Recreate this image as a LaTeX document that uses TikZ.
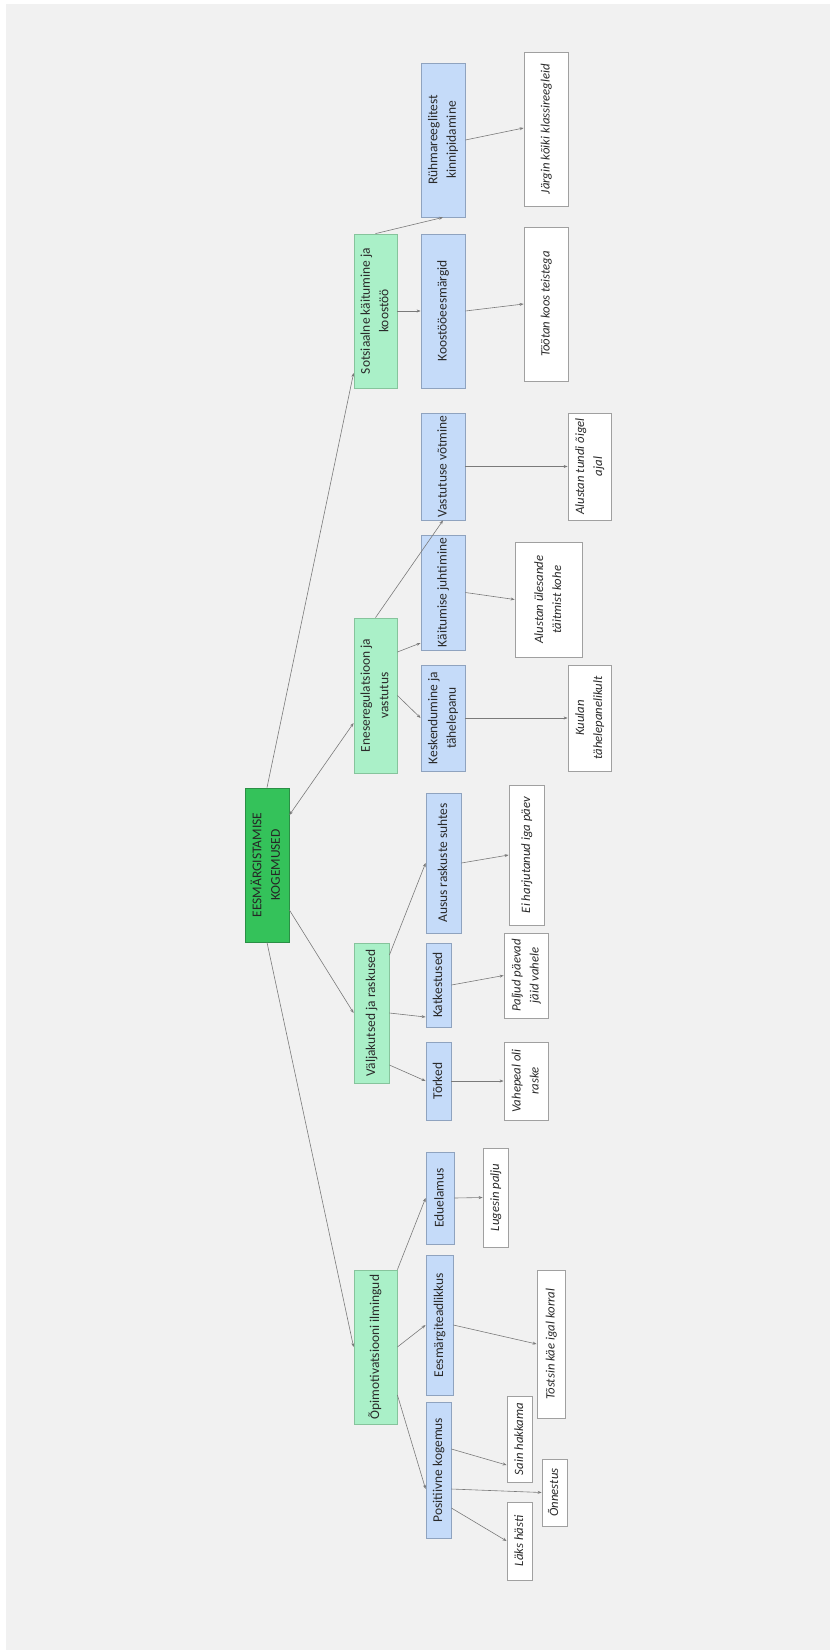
\documentclass[tikz,border=0pt]{standalone}
\usepackage{fontspec}
\usepackage{graphicx}
\setmainfont{Carlito}
\usetikzlibrary{arrows.meta}
\definecolor{bgc}{HTML}{F1F1F1}
\definecolor{rootfill}{HTML}{34C25A}
\definecolor{rootdraw}{HTML}{2A8F45}
\definecolor{gfill}{HTML}{AAF0C8}
\definecolor{gdraw}{HTML}{86C49C}
\definecolor{bfill}{HTML}{C5DBF9}
\definecolor{bdraw}{HTML}{8FA3BF}
\definecolor{wdraw}{HTML}{A0A0A0}
\definecolor{linec}{HTML}{7A7A7A}
\definecolor{txt}{HTML}{2A2A2A}
\newcommand\rtext[1]{\rotatebox{90}{\fontsize{13.5}{18.5}\selectfont\begin{tabular}{@{}c@{}}#1\end{tabular}}}
\newcommand\ritext[1]{\rotatebox{90}{\fontsize{12.8}{18}\selectfont\itshape\begin{tabular}{@{}c@{}}#1\end{tabular}}}
\tikzset{
  basebox/.style={rectangle, inner sep=0pt, line width=0.8bp, text=txt},
  rootbox/.style={basebox, fill=rootfill, draw=rootdraw, text=black!85},
  gbox/.style={basebox, fill=gfill, draw=gdraw},
  bbox/.style={basebox, fill=bfill, draw=bdraw},
  wbox/.style={basebox, fill=white, draw=wdraw},
  conn/.style={draw=linec, line width=0.6bp, -{Stealth[length=4bp,width=3bp]}},
  conn2/.style={draw=linec, line width=0.6bp, {Stealth[length=4bp,width=3bp]}-{Stealth[length=4bp,width=3bp]}},
}
\begin{document}
\begin{tikzpicture}[x=1bp,y=1bp]
\useasboundingbox (0,0) rectangle (830,-1650);
\fill[bgc] (6,-4) rectangle (830,-1650);

% root
\node[rootbox, minimum width=44bp, minimum height=154bp] (root) at (267,-865) {\rtext{EESMÄRGISTAMISE\\KOGEMUSED}};

% level 1 (green)
\node[gbox, minimum width=43bp, minimum height=154bp] (soc) at (375.5,-311) {\rtext{Sotsiaalne käitumine ja\\koostöö}};
\node[gbox, minimum width=43bp, minimum height=155bp] (ene) at (375.5,-695.5) {\rtext{Eneseregulatsioon ja\\vastutus}};
\node[gbox, minimum width=35bp, minimum height=140bp] (val) at (371.5,-1013) {\rtext{Väljakutsed ja raskused}};
\node[gbox, minimum width=43bp, minimum height=154bp] (opi) at (375.5,-1347) {\rtext{Õpimotivatsiooni ilmingud}};

% level 2 (blue)
\node[bbox, minimum width=44bp, minimum height=154bp] (ruhm) at (443,-140) {\rtext{Rühmareeglitest\\kinnipidamine}};
\node[bbox, minimum width=44bp, minimum height=154bp] (koos) at (443,-311) {\rtext{Koostööeesmärgid}};
\node[bbox, minimum width=44bp, minimum height=107bp] (vast) at (443,-466.5) {\rtext{Vastutuse võtmine}};
\node[bbox, minimum width=44bp, minimum height=115bp] (kait) at (443,-592.5) {\rtext{Käitumise juhtimine}};
\node[bbox, minimum width=44bp, minimum height=106bp] (kesk) at (443,-718) {\rtext{Keskendumine ja\\tähelepanu}};
\node[bbox, minimum width=35bp, minimum height=140bp] (ausus) at (443.5,-863) {\rtext{Ausus raskuste suhtes}};
\node[bbox, minimum width=25bp, minimum height=84bp] (katk) at (438.5,-985) {\rtext{Katkestused}};
\node[bbox, minimum width=25bp, minimum height=78bp] (tork) at (438.5,-1081) {\rtext{Tõrked}};
\node[bbox, minimum width=28bp, minimum height=92bp] (edu) at (440,-1198) {\rtext{Eduelamus}};
\node[bbox, minimum width=27bp, minimum height=140bp] (eesm) at (439.5,-1325) {\rtext{Eesmärgiteadlikkus}};
\node[bbox, minimum width=25bp, minimum height=136bp] (pos) at (438.5,-1470) {\rtext{Positiivne kogemus}};

% level 3 (white)
\node[wbox, minimum width=44bp, minimum height=154bp] (jargin) at (546,-129) {\ritext{Järgin kõiki klassireegleid}};
\node[wbox, minimum width=44bp, minimum height=154bp] (tootan) at (546,-304) {\ritext{Töötan koos teistega}};
\node[wbox, minimum width=43bp, minimum height=107bp] (alt) at (589.5,-466.5) {\ritext{Alustan tundi õigel\\ajal}};
\node[wbox, minimum width=67bp, minimum height=115bp] (alu) at (548.5,-599.5) {\ritext{Alustan ülesande\\täitmist kohe}};
\node[wbox, minimum width=43bp, minimum height=106bp] (kuul) at (589.5,-718) {\ritext{Kuulan\\tähelepanelikult}};
\node[wbox, minimum width=35bp, minimum height=140bp] (ei) at (526.5,-855) {\ritext{Ei harjutanud iga päev}};
\node[wbox, minimum width=44bp, minimum height=85bp] (palj) at (526,-975.5) {\ritext{Paljud päevad\\jäid vahele}};
\node[wbox, minimum width=44bp, minimum height=78bp] (vahe) at (526,-1081) {\ritext{Vahepeal oli\\raske}};
\node[wbox, minimum width=25bp, minimum height=99bp] (lug) at (495.5,-1197.5) {\ritext{Lugesin palju}};
\node[wbox, minimum width=28bp, minimum height=148bp] (tost) at (551,-1344) {\ritext{Tõstsin käe igal korral}};
\node[wbox, minimum width=25bp, minimum height=86bp] (sain) at (519.5,-1439) {\ritext{Sain hakkama}};
\node[wbox, minimum width=25bp, minimum height=67bp] (onn) at (554.5,-1492.5) {\ritext{Õnnestus}};
\node[wbox, minimum width=25bp, minimum height=78bp] (laks) at (519.5,-1541) {\ritext{Läks hästi}};

% connectors: root
\draw[conn] (root.north) -- ([yshift=-62bp]soc.west);
\draw[conn2] ([yshift=50bp]root.east) -- ([yshift=-27.5bp]ene.west);
\draw[conn] ([yshift=-45bp]root.east) -- (val.west);
\draw[conn] (root.south) -- (opi.west);

% soc
\draw[conn] (soc.north) -- (ruhm.south);
\draw[conn] (soc.east) -- (koos.west);
\draw[conn] (ruhm.east) -- ([yshift=1bp]jargin.west);
\draw[conn] (koos.east) -- (tootan.west);

% ene
\draw[conn] (ene.north) -- (vast.south);
\draw[conn] ([yshift=43.5bp]ene.east) -- ([yshift=-50.5bp]kait.west);
\draw[conn] (ene.east) -- (kesk.west);
\draw[conn] (vast.east) -- (alt.west);
\draw[conn] (kait.east) -- (alu.west);
\draw[conn] (kesk.east) -- (kuul.west);

% val
\draw[conn] ([yshift=58bp]val.east) -- (ausus.west);
\draw[conn] (val.east) -- ([yshift=-32bp]katk.west);
\draw[conn] ([yshift=-52bp]val.east) -- (tork.west);
\draw[conn] (ausus.east) -- (ei.west);
\draw[conn] (katk.east) -- (palj.west);
\draw[conn] (tork.east) -- (vahe.west);

% opi
\draw[conn] (opi.north east) -- (edu.west);
\draw[conn] (opi.east) -- (eesm.west);
\draw[conn] ([yshift=-48bp]opi.east) -- ([yshift=-19bp]pos.west);
\draw[conn] (edu.east) -- (lug.west);
\draw[conn] (eesm.east) -- (tost.west);
\draw[conn] ([yshift=21bp]pos.east) -- ([yshift=-26bp]sain.west);
\draw[conn] ([yshift=-19bp]pos.east) -- (onn.west);
\draw[conn] ([yshift=-38bp]pos.east) -- (laks.west);
\end{tikzpicture}
\end{document}
